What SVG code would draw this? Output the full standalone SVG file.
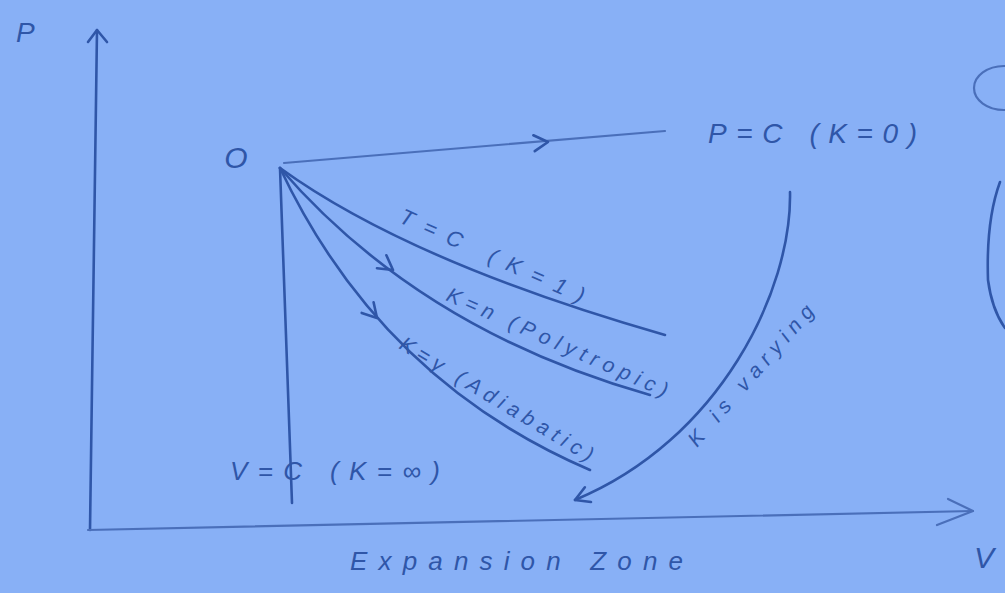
<svg xmlns="http://www.w3.org/2000/svg" width="1005" height="593" viewBox="0 0 1005 593">
<style>
.bg{fill:#88b0f6}
.ln{fill:none;stroke:#2f56a8;stroke-width:2.6;stroke-linecap:round;stroke-linejoin:round}
.lt{fill:none;stroke:#4a6fba;stroke-width:2.2;stroke-linecap:round;stroke-linejoin:round}
.tx{font-family:"Liberation Sans","DejaVu Sans",sans-serif;fill:#2f56a8;font-style:italic}
</style>
<defs>
<path id="chev" d="M-14,-8 L0,0 L-14,8" class="ln"/>
<marker id="ah" viewBox="-16 -10 20 20" markerWidth="20" markerHeight="20" markerUnits="userSpaceOnUse" orient="auto" refX="0" refY="0">
<path d="M-14,-8 L0,0 L-14,8" fill="none" stroke="#2f56a8" stroke-width="2.6" stroke-linecap="round" stroke-linejoin="round"/>
</marker>
</defs>
<rect class="bg" x="0" y="0" width="1005" height="593"/>

<g id="axes">
<path class="ln" d="M97,30 L90,530"/>
<path class="ln" d="M88,42 L97,30 L107,42"/>
<path class="lt" d="M88,530 L973,511"/>
<path class="lt" d="M948,499 L973,511 L937,525"/>
</g>

<g id="connectors">
<path class="lt" d="M284,163 L665,131"/>
<use href="#chev" transform="translate(548,142) rotate(-5)"/>
<path class="ln" d="M280,168 L292,503"/>
<path class="ln" d="M280,168 Q410,262 665,335"/>
<path class="ln" d="M280,168 Q420,330 650,395"/>
<use href="#chev" transform="translate(393,270) rotate(36)"/>
<path class="ln" d="M280,168 Q380,380 590,470"/>
<use href="#chev" transform="translate(377,318) rotate(48)"/>
<path class="ln" d="M790,192 C792,290 720,440 575,500" marker-end="url(#ah)"/>
</g>

<g id="node-O"><text class="tx" x="236" y="168" font-size="30" text-anchor="middle" font-style="normal">O</text></g>
<g id="label-P"><text class="tx" x="16" y="42" font-size="28">P</text></g>
<g id="label-V"><text class="tx" x="974" y="568" font-size="30" font-style="normal">V</text></g>
<g id="label-PC"><text class="tx" x="708" y="143" font-size="28" textLength="209" lengthAdjust="spacing">P=C (K=0)</text></g>
<g id="label-VC"><text class="tx" x="230" y="480" font-size="26" textLength="210" lengthAdjust="spacing">V=C (K=∞)</text></g>
<g id="label-TC"><text class="tx" font-size="22" transform="translate(398,222) rotate(24)" textLength="200" lengthAdjust="spacing">T=C (K=1)</text></g>
<g id="label-poly"><text class="tx" font-size="21" transform="translate(445,300) rotate(24)" textLength="240" lengthAdjust="spacing">K=n (Polytropic)</text></g>
<g id="label-adia"><text class="tx" font-size="21" transform="translate(398,348) rotate(31)" textLength="222" lengthAdjust="spacing">K=γ (Adiabatic)</text></g>
<g id="label-vary"><text class="tx" font-size="21" transform="translate(697,448) rotate(-49)" textLength="180" lengthAdjust="spacing">K is varying</text></g>
<g id="label-zone"><text class="tx" x="350" y="570" font-size="26" textLength="333" lengthAdjust="spacing">Expansion Zone</text></g>

<g id="edge-marks">
<ellipse class="lt" cx="1004" cy="88" rx="30" ry="22"/>
<path class="ln" d="M1000,182 Q986,220 988,280 Q992,310 1005,328"/>
</g>
</svg>
